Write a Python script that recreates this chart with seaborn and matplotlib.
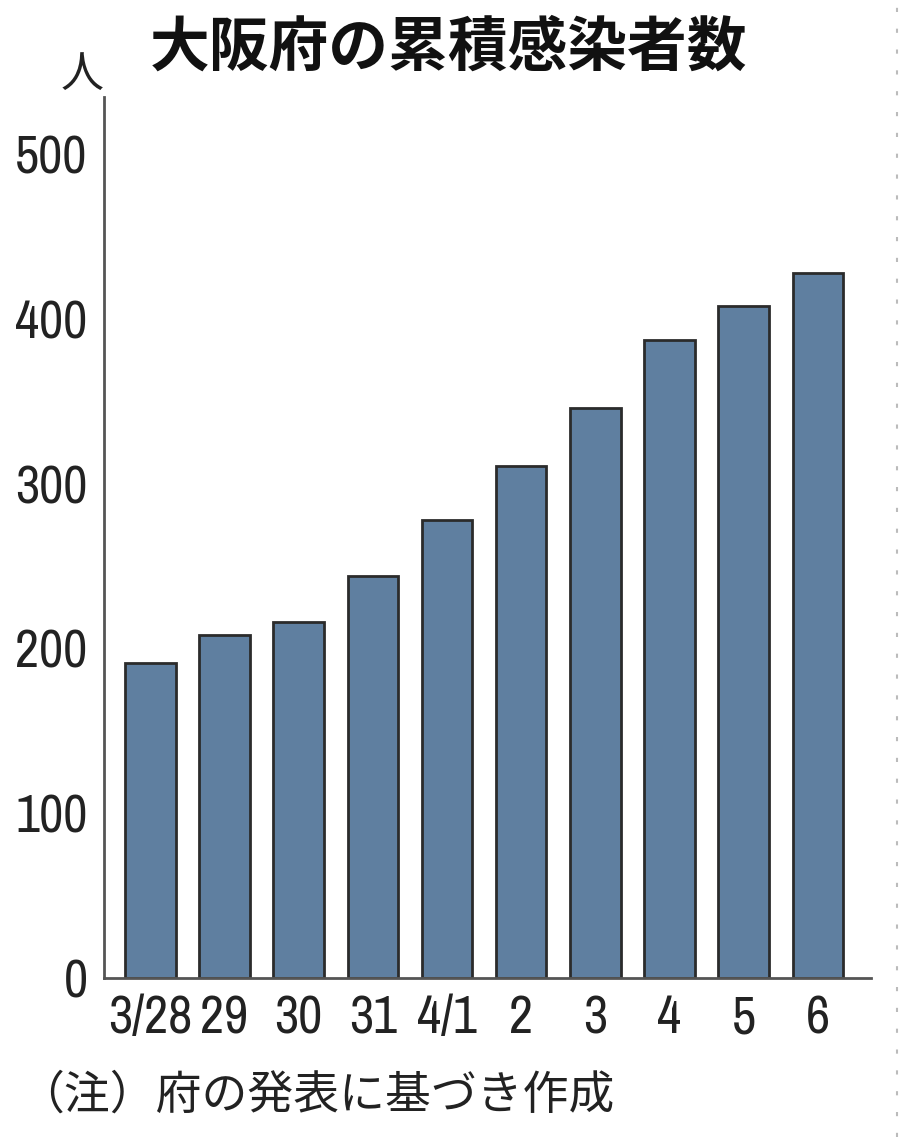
import matplotlib
matplotlib.use("Agg")
import matplotlib.pyplot as plt
from matplotlib import font_manager
import seaborn as sns
import pandas as pd

# データ
dates = ["3/28", "29", "30", "31", "4/1", "2", "3", "4", "5", "6"]
cases = [191, 208, 216, 244, 278, 311, 346, 387, 408, 428]
yticks = [0, 100, 200, 300, 400, 500]

title = "大阪府の累積感染者数"
unit = "人"
note = "（注）府の発表に基づき作成"

df = pd.DataFrame({"date": dates, "cases": cases})

sns.set_theme(style="white")
plt.rcParams["font.family"] = ["Noto Sans CJK JP", "DejaVu Sans"]

# 細長い数字用のフォント（あれば condensed 系を使う）
narrow = [f.name for f in font_manager.fontManager.ttflist
          if "narrow" in f.name.lower() or "condensed" in f.name.lower()
          or f.stretch in ("condensed", "semi-condensed", 75, 87)]
if narrow:
    num_font = [sorted(set(narrow))[0], "DejaVu Sans"]
    num_size = 38
else:
    num_font = ["Liberation Sans", "DejaVu Sans"]
    num_size = 32

bar_color = "#5f7fa0"
ink = "#222222"

fig = plt.figure(figsize=(9, 11.37), dpi=100)
ax = fig.add_axes([0.116, 0.140, 0.852, 0.775])

sns.barplot(data=df, x="date", y="cases", color=bar_color, width=0.68,
            edgecolor="#2b2b2b", linewidth=2, saturation=1, ax=ax)

ax.set_xlim(-0.62, 9.72)
ax.set_ylim(0, 535)
ax.set_yticks(yticks)
ax.set_yticklabels([str(v) for v in yticks], family=num_font, fontsize=num_size,
                   color=ink, fontstretch="condensed", fontweight="light")
ax.set_xticks(range(len(dates)))
ax.set_xticklabels(dates, family=num_font, fontsize=num_size, color=ink,
                   fontstretch="condensed", fontweight="light")
ax.set_xlabel("")
ax.set_ylabel("")

ax.tick_params(axis="y", direction="in", length=12, width=2, color="#555555", pad=12)
ax.tick_params(axis="x", length=0, pad=12)

for s in ["top", "right"]:
    ax.spines[s].set_visible(False)
for s in ["left", "bottom"]:
    ax.spines[s].set_color("#555555")
    ax.spines[s].set_linewidth(2)

fig.text(0.498, 0.957, title, ha="center", va="center", fontsize=43,
         fontweight="bold", color="#111111")
fig.text(0.091, 0.934, unit, ha="center", va="center", fontsize=31,
         color=ink)
fig.text(0.02, 0.037, note, ha="left", va="center", fontsize=33,
         color=ink)

# 右端の点線（元画像の枠線）
fig.add_artist(plt.Line2D([0.997, 0.997], [0, 1], transform=fig.transFigure,
                          color="#bbbbbb", linestyle=(0, (2, 8)), linewidth=1.5))

fig.savefig("out.png", dpi=100)
